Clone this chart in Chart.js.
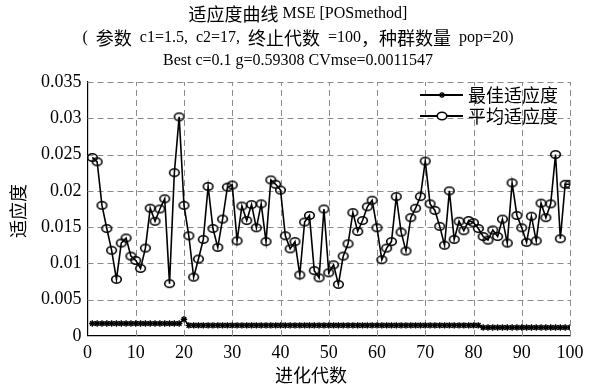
<!DOCTYPE html>
<html><head><meta charset="utf-8">
<script src="https://cdn.jsdelivr.net/npm/chart.js@4.4.0/dist/chart.umd.min.js"></script>
<style>html,body{margin:0;padding:0;background:#fff}#wrap{width:600px;height:386px}</style>
</head><body><div id="wrap"><canvas id="c" width="600" height="386"></canvas></div>
<script>
const titleLines = ["适应度曲线 MSE [POSmethod]", "(  参数  c1=1.5,  c2=17,  终止代数  =100，种群数量  pop=20)", "Best c=0.1 g=0.59308 CVmse=0.0011547"];
const xTitle = "进化代数";
const yTitle = "适应度";
const seriesNames = ["最佳适应度", "平均适应度"];
const xTicks = [0,10,20,30,40,50,60,70,80,90,100];
const yTicks = [0,0.005,0.01,0.015,0.02,0.025,0.03,0.035];
const generations = [1,2,3,4,5,6,7,8,9,10,11,12,13,14,15,16,17,18,19,20,21,22,23,24,25,26,27,28,29,30,31,32,33,34,35,36,37,38,39,40,41,42,43,44,45,46,47,48,49,50,51,52,53,54,55,56,57,58,59,60,61,62,63,64,65,66,67,68,69,70,71,72,73,74,75,76,77,78,79,80,81,82,83,84,85,86,87,88,89,90,91,92,93,94,95,96,97,98,99,100];
const bestFitness = [0.0017,0.0017,0.0017,0.0017,0.0017,0.0017,0.0017,0.0017,0.0017,0.0017,0.0017,0.0017,0.0017,0.0017,0.0017,0.0017,0.0017,0.0017,0.0017,0.0023,0.00145,0.00145,0.00145,0.00145,0.00145,0.00145,0.00145,0.00145,0.00145,0.00145,0.00145,0.00145,0.00145,0.00145,0.00145,0.00145,0.00145,0.00145,0.00145,0.00145,0.00145,0.00145,0.00145,0.00145,0.00145,0.00145,0.00145,0.00145,0.00145,0.00145,0.00145,0.00145,0.00145,0.00145,0.00145,0.00145,0.00145,0.00145,0.00145,0.00145,0.00145,0.00145,0.00145,0.00145,0.00145,0.00145,0.00145,0.00145,0.00145,0.00145,0.00145,0.00145,0.00145,0.00145,0.00145,0.00145,0.00145,0.00145,0.00145,0.00145,0.00145,0.0011547,0.0011547,0.0011547,0.0011547,0.0011547,0.0011547,0.0011547,0.0011547,0.0011547,0.0011547,0.0011547,0.0011547,0.0011547,0.0011547,0.0011547,0.0011547,0.0011547,0.0011547,0.0011547];
const avgFitness = [0.0246,0.0240,0.0180,0.0148,0.0118,0.0078,0.0128,0.0135,0.0110,0.0104,0.0093,0.0121,0.0176,0.0158,0.0175,0.0189,0.0072,0.0225,0.0302,0.0180,0.0138,0.0081,0.0106,0.0133,0.0206,0.0148,0.0122,0.0161,0.0205,0.0208,0.0131,0.0179,0.0159,0.0181,0.0149,0.0182,0.0130,0.0215,0.0209,0.0201,0.0138,0.0120,0.0130,0.0084,0.0157,0.0166,0.0090,0.0080,0.0175,0.0087,0.0098,0.0071,0.0110,0.0127,0.0170,0.0144,0.0159,0.0178,0.0187,0.0149,0.0105,0.0121,0.0130,0.0192,0.0143,0.0117,0.0163,0.0176,0.0192,0.0241,0.0182,0.0173,0.0151,0.0125,0.0200,0.0133,0.0158,0.0145,0.0159,0.0156,0.0148,0.0137,0.0132,0.0146,0.0137,0.0161,0.0128,0.0211,0.0166,0.0149,0.0129,0.0165,0.0131,0.0183,0.0163,0.0182,0.0250,0.0134,0.0209,0.0209];

const FF = "'Liberation Serif','Noto Sans CJK SC',serif";
const LAT = "16px 'Liberation Serif'";
const CJK = "18px 'Noto Sans CJK SC'";

function ellipseMarker(){
  const c=document.createElement('canvas');c.width=13;c.height=11;
  const g=c.getContext('2d');g.strokeStyle='#000';g.lineWidth=1.6;
  g.beginPath();g.ellipse(6.5,5.5,4.8,3.7,0,0,Math.PI*2);g.stroke();return c;
}
const oMark = ellipseMarker();

function runs(s){
  const out=[];const re=/[\u3000-\u9fff\uff00-\uffef]+/g;let last=0,m;
  while((m=re.exec(s))){if(m.index>last)out.push([s.slice(last,m.index),LAT]);out.push([m[0],CJK]);last=m.index+m[0].length;}
  if(last<s.length)out.push([s.slice(last),LAT]);return out;
}
function drawMixed(ctx,s,cx,cy){
  const rs=runs(s);let w=0;
  for(const [t,f] of rs){ctx.font=f;w+=ctx.measureText(t).width;}
  let x=cx-w/2;ctx.textBaseline='middle';ctx.textAlign='left';ctx.fillStyle='#000';
  for(const [t,f] of rs){ctx.font=f;ctx.fillText(t,x,cy);x+=ctx.measureText(t).width;}
}
function dashed(ctx,x1,y1,x2,y2){
  const on=6,off=4,len=Math.hypot(x2-x1,y2-y1),dx=(x2-x1)/len,dy=(y2-y1)/len;
  ctx.beginPath();
  for(let s=0;s<len;s+=on+off){const e=Math.min(s+on,len);ctx.moveTo(x1+dx*s,y1+dy*s);ctx.lineTo(x1+dx*e,y1+dy*e);}
  ctx.stroke();
}

const gridPlugin = {id:'dashgrid', beforeDatasetsDraw(ch){
  const ctx=ch.ctx,a=ch.chartArea,sx=ch.scales.x,sy=ch.scales.y;
  ctx.save();ctx.strokeStyle='#8a8a8a';ctx.lineWidth=1;
  xTicks.forEach(v=>{if(v===xTicks[0])return;const p=Math.round(sx.getPixelForValue(v))+0.5;dashed(ctx,p,a.bottom,p,a.top);});
  yTicks.forEach(v=>{if(v===yTicks[0])return;const p=Math.round(sy.getPixelForValue(v))+0.5;dashed(ctx,a.left,p,a.right,p);});
  ctx.restore();
}};

const decor = {id:'decor', afterDraw(ch){
  const ctx=ch.ctx, a=ch.chartArea;
  ctx.save();
  const ys=[14,38,61];
  titleLines.forEach((t,i)=>drawMixed(ctx,t,298,ys[i]));
  ctx.font=CJK;ctx.fillStyle='#000';ctx.textAlign='center';ctx.textBaseline='middle';
  ctx.fillText(xTitle,311,375);
  ctx.save();ctx.translate(18,(a.top+a.bottom)/2+2);ctx.rotate(-Math.PI/2);ctx.fillText(yTitle,0,0);ctx.restore();
  const rows=[a.top+13,a.top+34];
  rows.forEach((y,i)=>{
    ctx.strokeStyle='#000';ctx.lineWidth=1.8;
    ctx.beginPath();ctx.moveTo(a.right-150,y);ctx.lineTo(a.right-107,y);ctx.stroke();
    const mx=a.right-128;
    if(i===0){ctx.lineWidth=1.4;for(let k=0;k<4;k++){const t=k*Math.PI/4;ctx.beginPath();ctx.moveTo(mx-3*Math.cos(t),y-3*Math.sin(t));ctx.lineTo(mx+3*Math.cos(t),y+3*Math.sin(t));ctx.stroke();}}
    else{ctx.fillStyle='#fff';ctx.lineWidth=1.6;ctx.beginPath();ctx.ellipse(mx,y,4.8,3.7,0,0,Math.PI*2);ctx.fill();ctx.stroke();}
    ctx.fillStyle='#000';ctx.font=CJK;ctx.textBaseline='middle';ctx.textAlign='left';
    ctx.fillText(seriesNames[i],a.right-102,y);
  });
  ctx.restore();
}};

new Chart(document.getElementById('c'), {
  type: 'line',
  data: {
    labels: generations,
    datasets: [
      {label: seriesNames[0], data: generations.map((g,i)=>({x:g,y:bestFitness[i]})), borderColor:'#000', borderWidth:1.6, pointStyle:'star', pointRadius:3.2, pointBorderWidth:1.4, pointBorderColor:'#000', pointBackgroundColor:'#000', tension:0},
      {label: seriesNames[1], data: generations.map((g,i)=>({x:g,y:avgFitness[i]})), borderColor:'#000', borderWidth:1.6, pointStyle:oMark, pointRadius:5, tension:0}
    ]
  },
  options: {
    responsive:false, animation:false, devicePixelRatio:1,
    layout:{padding:{left:35,right:30,top:82,bottom:15.5}},
    scales:{
      x:{type:'linear', min:0, max:100,
        afterBuildTicks:a=>{a.ticks=xTicks.map(v=>({value:v}));},
        ticks:{color:'#000', font:{family:FF,size:18}, padding:6.5, maxRotation:0, callback:v=>String(v)},
        grid:{display:false, drawTicks:false, tickLength:0},
        border:{display:true,color:'#000',width:1.2}
      },
      y:{min:0, max:0.035,
        afterBuildTicks:a=>{a.ticks=yTicks.map(v=>({value:v}));},
        ticks:{color:'#000', font:{family:FF,size:18}, padding:6, callback:v=>String(+v.toFixed(3))},
        grid:{display:false, drawTicks:false, tickLength:0},
        border:{display:true,color:'#000',width:1.2}
      }
    },
    plugins:{
      title:{display:false},
      legend:{display:false},
      tooltip:{enabled:false}
    }
  },
  plugins:[gridPlugin, decor]
});
</script></body></html>
